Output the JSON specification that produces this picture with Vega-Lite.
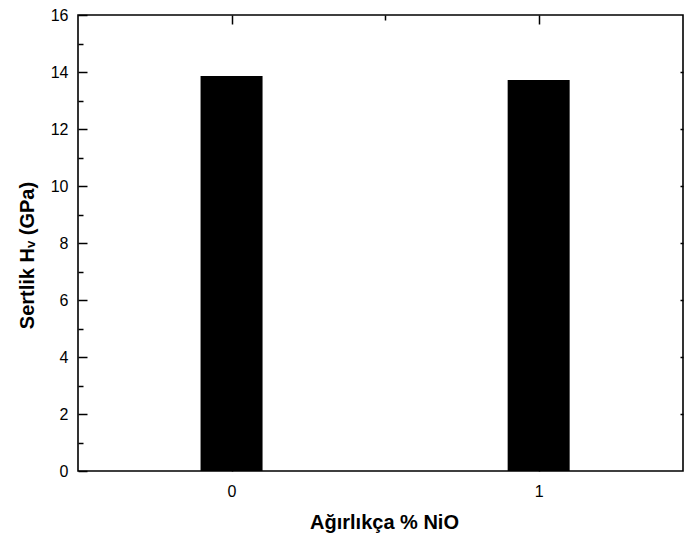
{
  "$schema": "https://vega.github.io/schema/vega-lite/v6.json",
  "width": 605,
  "height": 456,
  "autosize": {"type": "none"},
  "padding": {"left": 78, "top": 15, "right": 1, "bottom": 69},
  "background": "white",
  "config": {
    "view": {"stroke": "black", "strokeWidth": 1.6},
    "font": "Liberation Sans",
    "axis": {
      "domain": false,
      "grid": false,
      "tickColor": "black",
      "tickWidth": 1.5,
      "labelColor": "black",
      "titleColor": "black",
      "labelFont": "Liberation Sans",
      "titleFont": "Liberation Sans"
    }
  },
  "data": {
    "values": [
      {"NiO": 0, "H": 13.86},
      {"NiO": 1, "H": 13.72}
    ]
  },
  "layer": [
    {
      "mark": {"type": "bar", "color": "black", "size": 62},
      "encoding": {
        "x": {
          "field": "NiO",
          "type": "quantitative",
          "scale": {"domain": [-0.5, 1.47], "nice": false, "zero": false, "padding": 0},
          "axis": {
            "orient": "bottom",
            "values": [0, 0.5, 1],
            "format": "d",
            "labelExpr": "datum.value === 0.5 ? '' : datum.label",
            "tickSize": {"condition": {"test": "datum.value === 0.5", "value": -5}, "value": -9},
            "labelFontSize": 16,
            "labelPadding": 21,
            "title": "Ağırlıkça % NiO",
            "titleFontSize": 20,
            "titleFontWeight": "bold",
            "titlePadding": 13,
            "titleX": 306
          }
        },
        "y": {
          "field": "H",
          "type": "quantitative",
          "scale": {"domain": [0, 16], "nice": false, "zero": true, "padding": 0},
          "axis": {
            "orient": "left",
            "values": [0, 1, 2, 3, 4, 5, 6, 7, 8, 9, 10, 11, 12, 13, 14, 15, 16],
            "format": "d",
            "labelExpr": "datum.value % 2 === 0 ? datum.label : ''",
            "tickSize": {"condition": {"test": "datum.value % 2 === 0", "value": -9}, "value": -5},
            "labelFontSize": 16,
            "labelPadding": 19,
            "title": "Sertlik Hᵥ (GPa)",
            "titleFontSize": 20,
            "titleFontWeight": "bold",
            "titlePadding": 13,
            "titleY": 240
          }
        }
      }
    },
    {
      "mark": {"type": "bar", "color": "black", "size": 62, "opacity": 0},
      "encoding": {
        "x": {
          "field": "NiO",
          "type": "quantitative",
          "scale": {"domain": [-0.5, 1.47], "nice": false, "zero": false, "padding": 0},
          "axis": {
            "orient": "top",
            "values": [0, 0.5, 1],
            "labels": false,
            "tickSize": {"condition": {"test": "datum.value === 0.5", "value": -5}, "value": -9},
            "title": null
          }
        },
        "y": {
          "field": "H",
          "type": "quantitative",
          "scale": {"domain": [0, 16], "nice": false, "zero": true, "padding": 0},
          "axis": {
            "orient": "right",
            "values": [2, 4, 6, 8, 10, 12, 14],
            "labels": false,
            "tickSize": -3,
            "title": null
          }
        }
      }
    }
  ],
  "resolve": {"axis": {"x": "independent", "y": "independent"}}
}
